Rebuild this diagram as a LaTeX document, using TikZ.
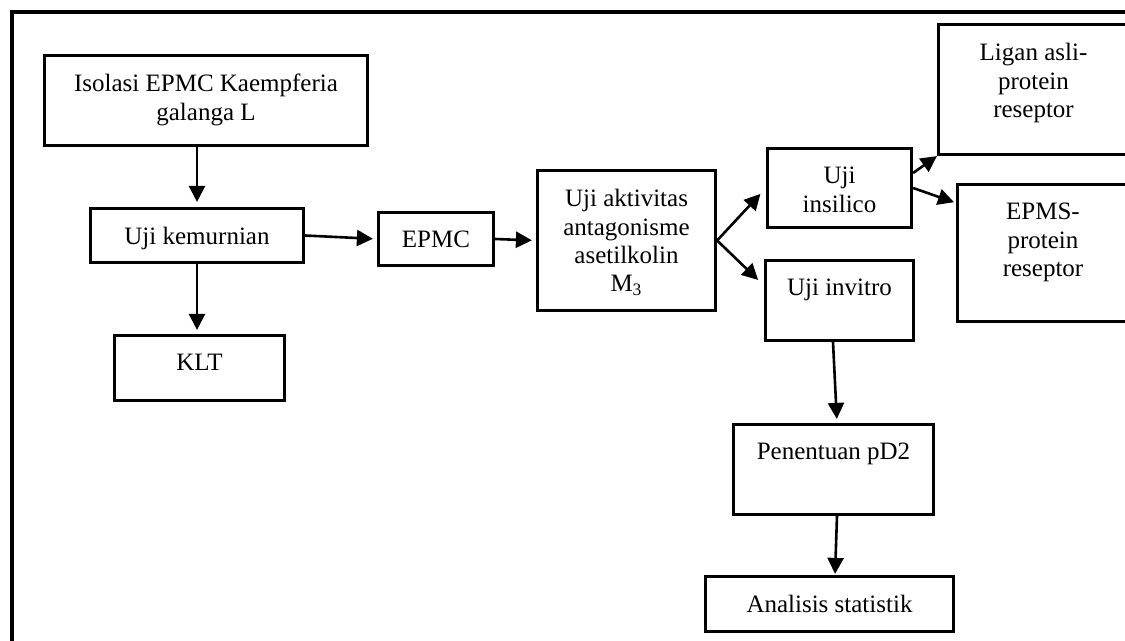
\documentclass[tikz,border=0pt]{standalone}
\usepackage{fontspec}
\setmainfont{Liberation Serif}
\usetikzlibrary{arrows.meta}

\begin{document}
\begin{tikzpicture}[x=0.5pt, y=-0.5pt,
    kotak/.style={draw, line width=1.6pt, inner sep=0pt},
    isi/.style={anchor=north, align=center, inner sep=0pt, yshift=-10pt,
        font=\fontsize{12.5}{14.2}\selectfont},
    panah/.style={line width=1.3pt, -{Triangle[length=8pt, width=8pt]}, shorten >=2pt}]
    \useasboundingbox (0,0) rectangle (1125,641);
    \clip (0,0) rectangle (1125,641);
    % Outer frame, runs off the page at right and bottom.
        \draw[line width=2pt] (12,680) -- (12,12) -- (1150,12);
    % Left column.
        \node[kotak, minimum width=161.5pt, minimum height=45pt,
            label={[isi]north:{Isolasi EPMC Kaempferia\\galanga L}}] (isolasi) at (206,100.5) {};
        \node[kotak, minimum width=106.5pt, minimum height=27pt,
            label={[isi]north:{Uji kemurnian}}] (kemurnian) at (197,235.5) {};
        \node[kotak, minimum width=85pt, minimum height=32.5pt,
            label={[isi]north:{KLT}}] (klt) at (199.5,368) {};
    % Middle.
        \node[kotak, minimum width=57.5pt, minimum height=26.5pt,
            label={[isi]north:{EPMC}}] (epmc) at (436,239) {};
        \node[kotak, minimum width=89pt, minimum height=70pt,
            label={[isi]north:{Uji aktivitas\\antagonisme\\asetilkolin\\M\textsubscript{3}}}] (aktivitas) at (626.5,240.5) {};
        \node[kotak, minimum width=72pt, minimum height=39.5pt,
            label={[isi]north:{Uji\\insilico}}] (insilico) at (839.5,188) {};
        \node[kotak, minimum width=74pt, minimum height=40pt,
            label={[isi]north:{Uji invitro}}] (invitro) at (839.5,300.5) {};
        \node[kotak, minimum width=100pt, minimum height=45pt,
            label={[isi]north:{Penentuan pD2}}] (penentuan) at (833.5,469.5) {};
        \node[kotak, minimum width=124pt, minimum height=27.5pt,
            label={[isi]north:{Analisis statistik}}] (analisis) at (829.5,604) {};
    % Right column, cut by the page edge.
        \node[kotak, minimum width=95pt, minimum height=65pt,
            label={[isi]north:{Ligan asli-\\protein\\reseptor}}] (ligan) at (1033.5,89.5) {};
        \node[kotak, minimum width=85.5pt, minimum height=68.5pt,
            label={[isi]north:{EPMS-\\protein\\reseptor}}] (epms) at (1043,253) {};
    % Arrows.
        \draw[panah, shorten >=2.5pt] (isolasi.south -| kemurnian.north) -- (kemurnian.north);
        \draw[panah] (kemurnian.south) -- (kemurnian.south |- klt.north);
        \draw[panah] (kemurnian.east) -- (epmc.west);
        \draw[panah] (epmc.east) -- (aktivitas.west);
        \draw[panah, shorten >=4pt] (aktivitas.east) -- (insilico.west);
        \draw[panah, shorten >=4pt] (aktivitas.east) -- ([yshift=7.5pt]invitro.west);
        \draw[panah, shorten >=0pt] ([yshift=7.5pt]insilico.east) -- (ligan.south west);
        \draw[panah, shorten >=1pt] (insilico.east) -- ([yshift=-10pt]epms.north west);
        \draw[panah] ([xshift=-3.25pt]invitro.south) -- ([xshift=1.75pt]penentuan.north);
        \draw[panah, shorten >=0.5pt] ([xshift=1.75pt]penentuan.south) -- ([xshift=2.75pt]analisis.north);
\end{tikzpicture}
\end{document}
